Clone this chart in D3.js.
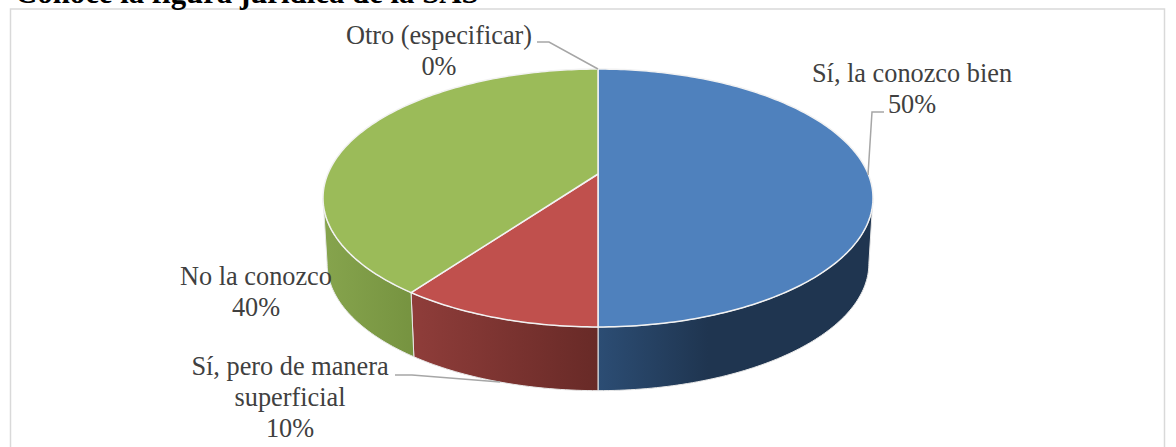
<!DOCTYPE html>
<html>
<head>
<meta charset="utf-8">
<script src="https://cdn.jsdelivr.net/npm/d3@7"></script>
<style>
  html, body { margin: 0; padding: 0; background: #fff; overflow: hidden; }
  text { font-family: "Liberation Serif", serif; }
</style>
</head>
<body>
<svg id="chart" width="1176" height="447"></svg>
<script>
const title = "Conoce la figura jurídica de la SAS";
const categories = ["Sí, la conozco bien", "Sí, pero de manera superficial", "No la conozco", "Otro (especificar)"];
const values = [50, 10, 40, 0];
const topColors = ["#4f81bd", "#c0504d", "#9bbb59", "#8064a2"];
const sideLight = ["#2c4d74", "#8f3d3a", "#86a44d", "#4d3b62"];
const sideDark = ["#1f3550", "#682a27", "#769340", "#4d3b62"];

const svg = d3.select("#chart");

// chart frame, runs off the bottom of the picture
svg.append("rect")
    .attr("x", 10.5).attr("y", 9)
    .attr("width", 1154).attr("height", 460)
    .attr("fill", "#fff").attr("stroke", "#d9d9d9").attr("stroke-width", 1.5);

// title is cut by the top edge, same as the source
svg.append("text")
    .attr("x", 15).attr("y", 3)
    .attr("font-size", 30.8).attr("font-weight", "bold").attr("fill", "#000")
    .text(title);

// Perspective for the disc: the centre sits above the middle of the ellipse
const CX = 598;
const TILT = 0.186;
const RX = 270.2;
const RY = 124.5;
const TOP_Y = 174;
const BOTTOM_Y = 240;
const BOTTOM_SCALE = 0.985;

function project(angle, disc) {
    const s = disc === "top" ? 1 : BOTTOM_SCALE;
    const u = Math.sin(angle), v = -Math.cos(angle);
    const w = 1 - TILT * v;
    return [CX + s * RX * u / w, (disc === "top" ? TOP_Y : BOTTOM_Y) + s * RY * v / w];
}

function arcPoints(a0, a1, disc) {
    const n = Math.max(2, Math.ceil(Math.abs(a1 - a0) * 60));
    return d3.range(n + 1).map(i => project(a0 + (a1 - a0) * i / n, disc));
}

const line = d3.line();
const pie = d3.pie().sort(null).value((d, i) => values[i]);
const slices = pie(categories);

const defs = svg.append("defs");
slices.forEach((s, i) => {
    const g = defs.append("linearGradient").attr("id", "side" + i);
    // blue side goes dark to the right quickly, others are a plain ramp
    g.append("stop").attr("offset", "0").attr("stop-color", sideLight[i]);
    g.append("stop").attr("offset", i === 0 ? "0.4" : "1").attr("stop-color", sideDark[i]);
});

// visible front wall: only the part of each slice below the disc
// silhouette angle is where the ellipse is widest
const SIL = Math.PI / 2 + Math.asin(TILT);
const wall = svg.append("g");
slices.forEach((s, i) => {
    const a0 = Math.max(s.startAngle, SIL);
    const a1 = Math.min(s.endAngle, 2 * Math.PI - SIL);
    if (a1 <= a0) return;
    const pts = arcPoints(a0, a1, "top").concat(arcPoints(a1, a0, "bottom"));
    wall.append("path")
        .attr("d", line(pts) + "Z")
        .attr("fill", `url(#side${i})`)
        .attr("stroke", "#e8e8e8").attr("stroke-width", 1);
});

// top face
const face = svg.append("g");
slices.forEach((s, i) => {
    if (s.endAngle <= s.startAngle) return;
    const pts = [[CX, TOP_Y]].concat(arcPoints(s.startAngle, s.endAngle, "top"));
    face.append("path")
        .attr("d", line(pts) + "Z")
        .attr("fill", topColors[i])
        .attr("stroke", "#f2f2f2").attr("stroke-width", 1.5)
        .attr("stroke-linejoin", "round");
});

// leader lines
const leaders = [
    [[537, 42], [549, 42], [598, 69]],
    [[868, 175], [872, 112], [884, 112]],
    [[395, 375], [412, 375], [500, 382]]
];
svg.append("g").selectAll("path")
    .data(leaders)
    .join("path")
    .attr("d", d => line(d))
    .attr("fill", "none").attr("stroke", "#a6a6a6").attr("stroke-width", 1.5);

// data labels
const labelLines = [
    [categories[0], values[0] + "%"],
    ["Sí, pero de manera", "superficial", values[1] + "%"],
    [categories[2], values[2] + "%"],
    [categories[3], values[3] + "%"]
];
const labelAt = [[912, 82], [290, 375], [256, 285], [439, 44]];
const labels = svg.append("g")
    .attr("font-size", 26.3).attr("fill", "#404040").attr("text-anchor", "middle");
labelLines.forEach((rows, i) => {
    rows.forEach((t, j) => {
        labels.append("text")
            .attr("x", labelAt[i][0])
            .attr("y", labelAt[i][1] + j * 31)
            .text(t);
    });
});
</script>
</body>
</html>
